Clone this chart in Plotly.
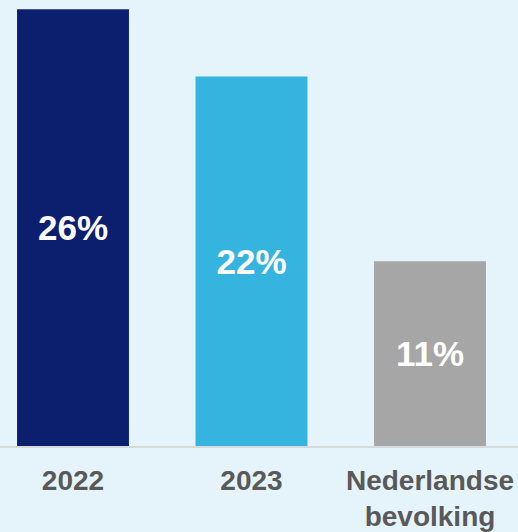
import plotly.graph_objects as go

categories = ["2022", "2023", "Nederlandse<br>bevolking"]
values = [26, 22, 11]
labels = ["26%", "22%", "11%"]
bar_colors = ["#0c1f6e", "#35b4e0", "#a6a6a6"]

fig = go.Figure(
    go.Bar(
        x=categories,
        y=values,
        marker=dict(color=bar_colors, line=dict(width=0)),
        text=labels,
        textposition="inside",
        insidetextanchor="middle",
        textangle=0,
        textfont=dict(family="Liberation Sans, Arial", size=35, color="white", weight="bold"),
        hoverinfo="skip",
    )
)

fig.update_layout(
    width=518,
    height=532,
    margin=dict(l=0, r=0, t=0, b=84),
    paper_bgcolor="#e5f4fa",
    plot_bgcolor="#e5f4fa",
    bargap=0.373,
    showlegend=False,
    uniformtext=dict(mode=False),
    xaxis=dict(
        type="category",
        range=[-0.409, 2.493],
        showgrid=False,
        zeroline=False,
        showline=True,
        linecolor="#d6dadc",
        linewidth=2,
        ticks="",
        ticklabelstandoff=8,
        tickfont=dict(family="Liberation Sans, Arial", size=28, color="#595959", weight="bold"),
        fixedrange=True,
    ),
    yaxis=dict(
        range=[0, 26.55],
        visible=False,
        showgrid=False,
        zeroline=False,
        fixedrange=True,
    ),
)

fig.write_html("out.html")
